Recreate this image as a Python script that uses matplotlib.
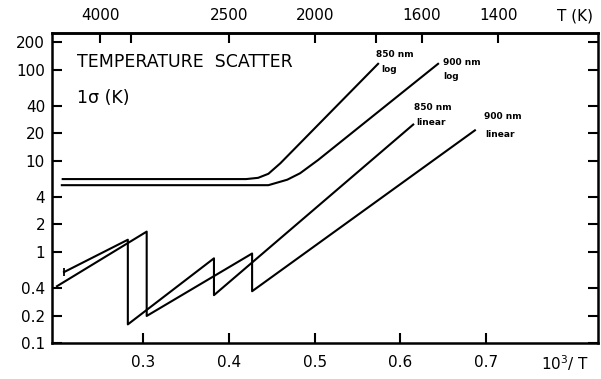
import matplotlib
matplotlib.use("Agg")
import matplotlib.pyplot as plt
from matplotlib.ticker import FixedLocator, NullLocator, FixedFormatter

# x = 10^3 / T ; y = 1 sigma temperature scatter (K)
log850_x = [0.206, 0.420, 0.434, 0.446, 0.460, 0.574]
log850_y = [6.3, 6.3, 6.5, 7.2, 9.4, 116]

log900_x = [0.205, 0.446, 0.468, 0.483, 0.504, 0.644]
log900_y = [5.4, 5.4, 6.2, 7.3, 10.2, 116]

lin850_x = [0.2075, 0.282, 0.282, 0.3825, 0.3825, 0.615]
lin850_y = [0.60, 1.36, 0.16, 0.85, 0.335, 25]

lin900_x = [0.1993, 0.304, 0.304, 0.427, 0.427, 0.687]
lin900_y = [0.42, 1.67, 0.198, 0.96, 0.37, 21.6]

x_ticks = [0.3, 0.4, 0.5, 0.6, 0.7]
y_ticks = [0.1, 0.2, 0.4, 1, 2, 4, 10, 20, 40, 100, 200]
y_labels = ["0.1", "0.2", "0.4", "1", "2", "4", "10", "20", "40", "100", "200"]
t_ticks = [4000, 3500, 2500, 2000, 1750, 1600, 1400]
t_labels = ["4000", "", "2500", "2000", "", "1600", "1400"]

fig = plt.figure(figsize=(6.01, 3.79), dpi=100)
ax = fig.add_axes([0.0865, 0.095, 0.9085, 0.818])

lw = 1.5
ax.plot(log850_x, log850_y, color="black", lw=lw)
ax.plot(log900_x, log900_y, color="black", lw=lw)
ax.plot(lin850_x, lin850_y, color="black", lw=lw)
ax.plot(lin900_x, lin900_y, color="black", lw=lw)
# small start mark on the 850 nm linear curve
ax.plot(lin850_x[0], lin850_y[0], marker="|", color="black", ms=6, mew=1.3)

ax.set_yscale("log")
ax.set_xlim(0.1935, 0.8306)
ax.set_ylim(0.1, 253)

ax.yaxis.set_major_locator(FixedLocator(y_ticks))
ax.yaxis.set_major_formatter(FixedFormatter(y_labels))
ax.yaxis.set_minor_locator(NullLocator())
ax.set_xticks(x_ticks)
ax.set_xticklabels([f"{v:.1f}" for v in x_ticks])

for s in ax.spines.values():
    s.set_linewidth(1.8)

ax.tick_params(axis="both", which="major", direction="in", length=7, width=1.5,
               labelsize=11, right=True)
ax.tick_params(axis="y", pad=5)
ax.tick_params(axis="x", pad=9)

top = ax.secondary_xaxis("top", functions=(lambda x: 1000.0 / x, lambda t: 1000.0 / t))
top.set_xticks(t_ticks)
top.set_xticklabels(t_labels)
top.xaxis.set_minor_locator(NullLocator())
top.tick_params(direction="in", length=7, width=1.5, labelsize=11, pad=7)
top.spines["top"].set_linewidth(1.8)

fig.text(0.957, 0.958, "T (K)", fontsize=11, ha="center", va="center")
fig.text(0.94, 0.042, "10$^3$/ T", fontsize=11, ha="center", va="center")

ax.text(0.045, 0.905, "TEMPERATURE  SCATTER", transform=ax.transAxes,
        fontsize=12.5, ha="left", va="center")
ax.text(0.045, 0.79, "1σ (K)", transform=ax.transAxes,
        fontsize=12.5, ha="left", va="center")

small = dict(fontsize=6.5, fontweight="bold", ha="left", va="center")
ax.text(0.593, 0.932, "850 nm", transform=ax.transAxes, **small)
ax.text(0.603, 0.881, "log", transform=ax.transAxes, **small)
ax.text(0.716, 0.906, "900 nm", transform=ax.transAxes, **small)
ax.text(0.716, 0.858, "log", transform=ax.transAxes, **small)
ax.text(0.663, 0.761, "850 nm", transform=ax.transAxes, **small)
ax.text(0.668, 0.71, "linear", transform=ax.transAxes, **small)
ax.text(0.791, 0.729, "900 nm", transform=ax.transAxes, **small)
ax.text(0.793, 0.671, "linear", transform=ax.transAxes, **small)

fig.savefig("out.png", dpi=100)
